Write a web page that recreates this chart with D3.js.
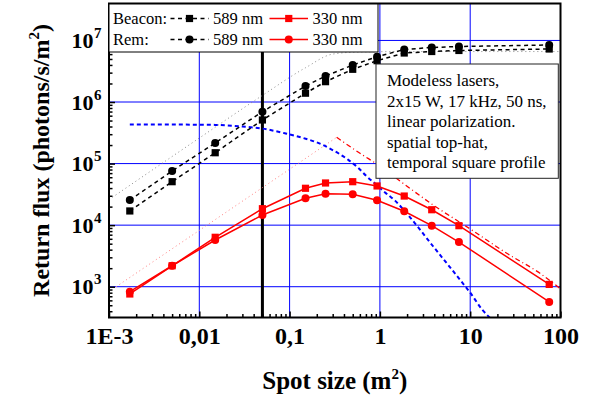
<!DOCTYPE html>
<html><head><meta charset="utf-8">
<script src="https://cdn.jsdelivr.net/npm/d3@7"></script>
<style>body{margin:0;background:#fff}svg{display:block;font-family:"Liberation Serif","Times New Roman",serif}</style>
</head><body><svg id="c" width="597" height="402"></svg>
<script>
// ---------- data ----------
const spotSizes = [0.0017, 0.005, 0.015, 0.05, 0.15, 0.25, 0.5, 0.93, 1.86, 3.75, 7.5, 75];
const beacon589 = [17000, 50800, 150000, 511000, 1.39e6, 2.14e6, 3.40e6, 4.69e6, 6.25e6, 6.61e6, 6.87e6, 7.26e6];
const rem589    = [25600, 75900, 216000, 697000, 1.82e6, 2.64e6, 3.99e6, 5.44e6, 7.13e6, 7.68e6, 7.97e6, 8.44e6];
const beacon330 = [762, 2190, 6350, 18500, 39700, 48400, 50800, 43300, 29700, 17800, 9800, 1090];
const rem330    = [830, 2190, 5740, 14600, 27300, 32400, 31700, 25300, 16800, 9800, 5320, 565];

const limit589X = [0.001, 0.01, 0.05, 0.15, 0.3, 0.6, 2, 100];
const limit589Y = [2.6e4, 2.6e5, 1.28e6, 3.6e6, 6.0e6, 6.5e6, 6.6e6, 6.6e6];

const blueX = [0.0017, 0.005, 0.015, 0.03, 0.05, 0.089, 0.142, 0.227, 0.28, 0.447, 0.576, 0.714, 0.922, 1.14, 1.47, 2.06, 3.9, 7.7, 10, 13.5, 17];
const blueY = [4.3e5, 4.3e5, 4.25e5, 4.0e5, 3.7e5, 3.1e5, 2.6e5, 2.05e5, 1.75e5, 1.15e5, 8.5e4, 6.2e4, 4.5e4, 3.4e4, 2.5e4, 1.45e4, 4500, 1300, 800, 430, 300];

const redRiseX = [0.0012, 0.332];
const redRiseY = [1000, 2.67e5];
const redFallX = [0.332, 0.602, 1.0, 1.67, 3.9, 10, 25.4, 59.3, 100];
const redFallY = [2.67e5, 1.47e5, 9.1e4, 5.2e4, 2.12e4, 8670, 3490, 1650, 925];

const markerSpot = 0.05;

const xTickValues = [1e-3, 1e-2, 1e-1, 1, 10, 100];
const xTickLabels = ["1E-3", "0,01", "0,1", "1", "10", "100"];
const yTickValues = [1e3, 1e4, 1e5, 1e6, 1e7];
const yTickExps   = ["3", "4", "5", "6", "7"];

const noteLines = ["Modeless lasers,", "2x15 W, 17 kHz, 50 ns,", "linear polarization.", "spatial top-hat,", "temporal square profile"];

// ---------- layout ----------
const W = 597, H = 402;
const L = 109, R = 560.5, T = 3.5, B = 317.5;
const svg = d3.select("#c");
const x = d3.scaleLog().domain([1e-3, 100]).range([L, R]);
const y = d3.scaleLog().domain([Math.pow(10, 2.5), Math.pow(10, 7.6)]).range([B, T]);

svg.append("rect").attr("width", W).attr("height", H).attr("fill", "#fff");
svg.append("defs").append("clipPath").attr("id", "clip")
  .append("rect").attr("x", L).attr("y", T).attr("width", R - L).attr("height", B - T);
const g = svg.append("g").attr("clip-path", "url(#clip)");

// grid
g.selectAll(".gx").data(xTickValues.slice(1, -1)).enter().append("line")
  .attr("x1", d => x(d)).attr("x2", d => x(d)).attr("y1", T).attr("y2", B)
  .attr("stroke", "#0000ff").attr("stroke-width", 1);
g.selectAll(".gy").data(yTickValues).enter().append("line")
  .attr("x1", L).attr("x2", R).attr("y1", d => y(d)).attr("y2", d => y(d))
  .attr("stroke", "#0000ff").attr("stroke-width", 1);

// thick vertical marker
g.append("line").attr("x1", x(markerSpot)).attr("x2", x(markerSpot)).attr("y1", T).attr("y2", B)
  .attr("stroke", "#000").attr("stroke-width", 3);

const line = d3.line().x(d => x(d[0])).y(d => y(d[1])).curve(d3.curveMonotoneX);
const zip = (a, b) => a.map((v, i) => [v, b[i]]);

// model curves
g.append("path").attr("d", line(zip(limit589X, limit589Y))).attr("fill", "none")
  .attr("stroke", "#888").attr("stroke-width", 1).attr("stroke-dasharray", "1,3");
g.append("path").attr("d", line(zip(redRiseX, redRiseY))).attr("fill", "none")
  .attr("stroke", "#ff8080").attr("stroke-width", 1).attr("stroke-dasharray", "1,3");
g.append("path").attr("d", line(zip(redFallX, redFallY))).attr("fill", "none")
  .attr("stroke", "#ff0000").attr("stroke-width", 1.3).attr("stroke-dasharray", "5,3,1,3");
g.append("path").attr("d", line(zip(blueX, blueY))).attr("fill", "none")
  .attr("stroke", "#0000ff").attr("stroke-width", 2).attr("stroke-dasharray", "4,3");

// data series
const series = [
  {vals: beacon589, color: "#000", dash: "4,3.5", shape: "square"},
  {vals: rem589,    color: "#000", dash: "4,3.5", shape: "circle"},
  {vals: beacon330, color: "#ff0000", dash: null, shape: "square"},
  {vals: rem330,    color: "#ff0000", dash: null, shape: "circle"}
];
const lin = d3.line().x(d => x(d[0])).y(d => y(d[1]));
series.forEach(s => {
  g.append("path").attr("d", lin(zip(spotSizes, s.vals))).attr("fill", "none")
    .attr("stroke", s.color).attr("stroke-width", 1.5).attr("stroke-dasharray", s.dash);
});
function marker(sel, shape, color, cx, cy) {
  if (shape === "square") sel.append("rect").attr("x", cx - 3.6).attr("y", cy - 3.6).attr("width", 7.2).attr("height", 7.2).attr("fill", color);
  else sel.append("circle").attr("cx", cx).attr("cy", cy).attr("r", 4).attr("fill", color);
}
series.forEach(s => {
  spotSizes.forEach((sx, i) => marker(g, s.shape, s.color, x(sx), y(s.vals[i])));
});

// axes
const xMinor = [], yMinor = [];
for (let e = -3; e < 2; e++) for (let m = 2; m < 10; m++) xMinor.push(m * Math.pow(10, e));
for (let e = 2; e < 8; e++) for (let m = 2; m < 10; m++) { const v = m * Math.pow(10, e); if (v >= y.domain()[0] && v <= y.domain()[1]) yMinor.push(v); }

const ax1 = svg.append("g").attr("transform", `translate(0,${B})`).call(d3.axisBottom(x).tickValues(xMinor).tickSize(-3.5).tickFormat(""));
const ax2 = svg.append("g").attr("transform", `translate(0,${B})`).call(d3.axisBottom(x).tickValues(xTickValues).tickSize(-6).tickPadding(9).tickFormat((d, i) => xTickLabels[i]));
const ay1 = svg.append("g").attr("transform", `translate(${L},0)`).call(d3.axisLeft(y).tickValues(yMinor).tickSize(-3.5).tickFormat(""));
const ay2 = svg.append("g").attr("transform", `translate(${L},0)`).call(d3.axisLeft(y).tickValues(yTickValues).tickSize(-6).tickFormat(""));
[ax1, ax2, ay1, ay2].forEach(a => { a.select(".domain").remove(); a.selectAll("line").attr("stroke", "#000").attr("stroke-width", 1.5); });
ax2.selectAll("text").attr("font-size", 24).attr("font-weight", "bold").attr("fill", "#000")
  .attr("font-family", '"Liberation Serif","Times New Roman",serif');

yTickValues.forEach((v, i) => {
  svg.append("text").attr("x", 93.5).attr("y", y(v) + 7.5).attr("text-anchor", "end")
    .attr("font-size", 22).attr("font-weight", "bold").text("10");
  svg.append("text").attr("x", 94).attr("y", y(v) - 2.5)
    .attr("font-size", 15).attr("font-weight", "bold").text(yTickExps[i]);
});

// frame
svg.append("rect").attr("x", L).attr("y", T).attr("width", R - L).attr("height", B - T)
  .attr("fill", "none").attr("stroke", "#000").attr("stroke-width", 2);

// axis titles
const xt = svg.append("text").attr("x", (L + R) / 2).attr("y", 389).attr("text-anchor", "middle")
  .attr("font-size", 25).attr("font-weight", "bold");
xt.append("tspan").text("Spot size (m");
xt.append("tspan").attr("font-size", 15).attr("dy", -10).text("2");
xt.append("tspan").attr("dy", 10).text(")");

const yt = svg.append("text").attr("transform", `translate(49,${(T + B) / 2}) rotate(-90)`).attr("text-anchor", "middle")
  .attr("font-size", 24).attr("font-weight", "bold");
yt.append("tspan").text("Return flux (photons/s/m");
yt.append("tspan").attr("font-size", 15).attr("dy", -10).text("2");
yt.append("tspan").attr("dy", 10).text(")");

// legend
const lg = svg.append("g");
lg.append("rect").attr("x", L).attr("y", 4).attr("width", 378 - L).attr("height", 48)
  .attr("fill", "#fff").attr("stroke", "#000").attr("stroke-width", 1);
const legRows = [
  {label: "Beacon:", cy: 18.5, items: [{s: series[0], t: "589 nm"}, {s: series[2], t: "330 nm"}]},
  {label: "Rem:",    cy: 39.5, items: [{s: series[1], t: "589 nm"}, {s: series[3], t: "330 nm"}]}
];
const sampleX = [[170.5, 208.5, 213], [269.5, 308, 312.5]];
legRows.forEach(r => {
  lg.append("text").attr("x", 113).attr("y", r.cy + 5.5).attr("font-size", 16.5).text(r.label);
  r.items.forEach((it, j) => {
    const [x0, x1, tx] = sampleX[j];
    lg.append("line").attr("x1", x0).attr("x2", x1).attr("y1", r.cy).attr("y2", r.cy)
      .attr("stroke", it.s.color).attr("stroke-width", 1.5).attr("stroke-dasharray", it.s.dash);
    marker(lg, it.s.shape, it.s.color, (x0 + x1) / 2, r.cy);
    lg.append("text").attr("x", tx).attr("y", r.cy + 5.5).attr("font-size", 16.5).text(it.t);
  });
});

// annotation box
const nb = svg.append("g");
nb.append("rect").attr("x", 376).attr("y", 64).attr("width", 558.3 - 376).attr("height", 178.3 - 64)
  .attr("fill", "#fff").attr("stroke", "#222").attr("stroke-width", 1);
noteLines.forEach((t, i) => {
  nb.append("text").attr("x", 387).attr("y", 86 + i * 20.6).attr("font-size", 17).text(t);
});
</script></body></html>
